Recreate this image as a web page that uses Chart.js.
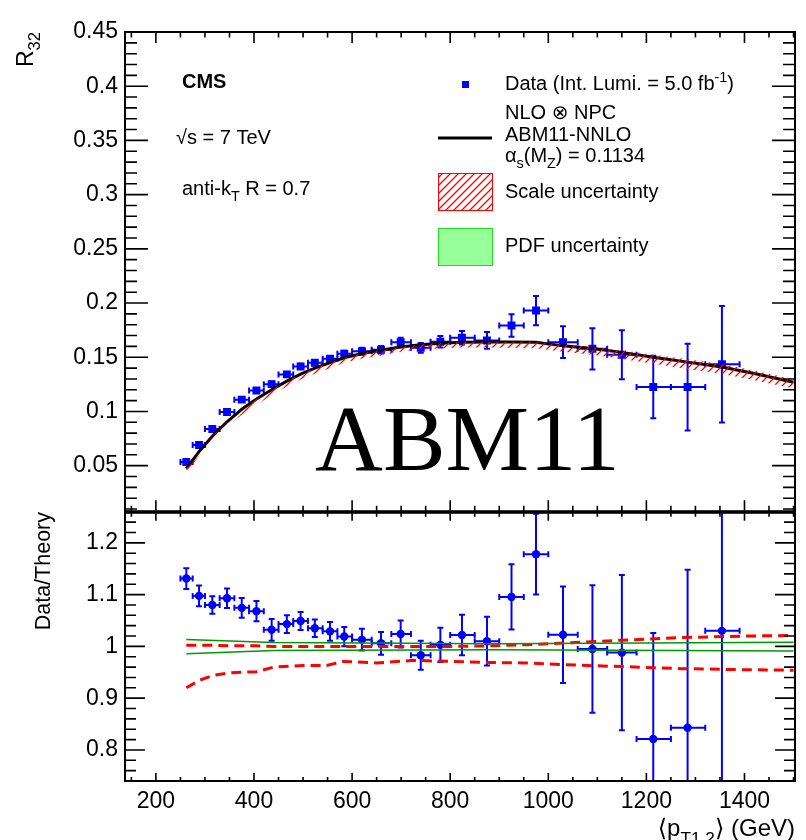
<!DOCTYPE html>
<html><head><meta charset="utf-8">
<script src="https://cdn.jsdelivr.net/npm/chart.js@4.4.1/dist/chart.umd.min.js"></script>
<style>
html,body{margin:0;padding:0;background:#fff;}
#wrap{position:relative;width:806px;height:840px;overflow:hidden;background:#fff;}
#c1{position:absolute;left:0;top:0;width:806px;height:532px;}
#c2{position:absolute;left:0;top:492px;width:806px;height:348px;}
</style></head><body>
<div id="wrap"><canvas id="c1" width="806" height="532"></canvas><canvas id="c2" width="806" height="348"></canvas></div>
<script>
// ---------------- data ----------------
const binCenter = [262, 288, 315, 345, 375, 405, 436, 467, 495, 524, 555, 584, 620, 659, 699, 740, 780, 824, 875, 925, 975, 1030, 1090, 1150, 1214, 1284, 1354];
const binLow    = [250, 275, 300, 330, 360, 390, 420, 450, 480, 510, 540, 570, 600, 640, 680, 720, 760, 800, 850, 900, 950, 1000, 1060, 1120, 1180, 1250, 1320];
const binHigh   = [275, 300, 330, 360, 390, 420, 450, 480, 510, 540, 570, 600, 640, 680, 720, 760, 800, 850, 900, 950, 1000, 1060, 1120, 1180, 1250, 1320, 1390];
const r32       = [0.0534, 0.0690, 0.0838, 0.0995, 0.1109, 0.1194, 0.1252, 0.1342, 0.1415, 0.1449, 0.1486, 0.1532, 0.1556, 0.1569, 0.1639, 0.1587, 0.1643, 0.1680, 0.1655, 0.1793, 0.1931, 0.1639, 0.1578, 0.1523, 0.1225, 0.1225, 0.1436];
const r32Err    = [0.0009, 0.0013, 0.0013, 0.0017, 0.0020, 0.0022, 0.0025, 0.0022, 0.0024, 0.0024, 0.0026, 0.0028, 0.0032, 0.0034, 0.0042, 0.0045, 0.0054, 0.0063, 0.0077, 0.0104, 0.0135, 0.0147, 0.0190, 0.0227, 0.0288, 0.0400, 0.0537];
const ratio     = [1.131, 1.0975, 1.080, 1.093, 1.0744, 1.068, 1.032, 1.043, 1.049, 1.035, 1.029, 1.019, 1.013, 1.006, 1.024, 0.983, 1.003, 1.022, 1.010, 1.0955, 1.178, 1.0225, 0.995, 0.988, 0.821, 0.843, 1.030];
const ratioErr  = [0.020, 0.020, 0.017, 0.019, 0.019, 0.0195, 0.021, 0.017, 0.0176, 0.017, 0.018, 0.0186, 0.021, 0.022, 0.026, 0.028, 0.033, 0.039, 0.047, 0.063, 0.078, 0.093, 0.123, 0.150, 0.205, 0.305, 0.385];

const theoryX   = [262, 288, 315, 345, 375, 405, 436, 467, 495, 524, 555, 584, 620, 659, 699, 740, 780, 824, 875, 925, 975, 1030, 1090, 1150, 1214, 1284, 1354, 1425, 1500];
const theory    = [0.0472, 0.0630, 0.0772, 0.0905, 0.1020, 0.1115, 0.1200, 0.1280, 0.1345, 0.1400, 0.1450, 0.1495, 0.1535, 0.1565, 0.1595, 0.1615, 0.1630, 0.1638, 0.1640, 0.1640, 0.1638, 0.1605, 0.1580, 0.1545, 0.1500, 0.1455, 0.1410, 0.1345, 0.1270];
const scaleBandLo = [0.0434, 0.0588, 0.0729, 0.0858, 0.0969, 0.1060, 0.1151, 0.1231, 0.1295, 0.1348, 0.1399, 0.1452, 0.1487, 0.1515, 0.1550, 0.1571, 0.1584, 0.1589, 0.1589, 0.1588, 0.1584, 0.1550, 0.1522, 0.1485, 0.1439, 0.1392, 0.1348, 0.1284, 0.1212];
const scaleBandHi = [0.0473, 0.0631, 0.0773, 0.0906, 0.1021, 0.1116, 0.1201, 0.1281, 0.1346, 0.1401, 0.1451, 0.1496, 0.1537, 0.1567, 0.1597, 0.1617, 0.1632, 0.1640, 0.1642, 0.1643, 0.1645, 0.1615, 0.1596, 0.1565, 0.1524, 0.1481, 0.1438, 0.1373, 0.1297];

const scaleRatioX  = [262, 290, 317, 350, 405, 440, 500, 548, 582, 650, 725, 800, 875, 950, 1065, 1150, 1270, 1400, 1500];
const scaleRatioLo = [0.920, 0.935, 0.944, 0.949, 0.951, 0.960, 0.963, 0.963, 0.971, 0.968, 0.973, 0.971, 0.969, 0.968, 0.9635, 0.961, 0.957, 0.955, 0.954];
const scaleRatioHi = [1.002, 1.002, 1.002, 1.001, 1.001, 1.000, 1.000, 1.000, 1.000, 1.000, 1.000, 1.000, 1.001, 1.003, 1.008, 1.012, 1.017, 1.020, 1.021];

const pdfRatioX  = [262, 440, 890, 1500];
const pdfRatioHi = [1.0135, 1.0077, 1.005, 1.008];
const pdfRatioLo = [0.986, 0.992, 0.9936, 0.991];

const xTickValues = [200, 400, 600, 800, 1000, 1200, 1400];
const xTickLabels = ['200', '400', '600', '800', '1000', '1200', '1400'];
const topYTickValues = [0.05, 0.1, 0.15, 0.2, 0.25, 0.3, 0.35, 0.4, 0.45];
const topYTickLabels = ['0.05', '0.1', '0.15', '0.2', '0.25', '0.3', '0.35', '0.4', '0.45'];
const botYTickValues = [0.8, 0.9, 1.0, 1.1, 1.2];
const botYTickLabels = ['0.8', '0.9', '1', '1.1', '1.2'];

// ---------------- helpers ----------------
const FONT = '"Liberation Sans", "DejaVu Sans", Arial, sans-serif';
Chart.defaults.font.family = FONT;
Chart.defaults.color = '#000';
const BLUE = '#0000ff';
const zip = (xs, ys) => xs.map((x, i) => ({x: x, y: ys[i]}));

function rich(ctx, x, y, parts, size, bold) {
  let cx = x;
  for (const [t, m] of parts) {
    const s = m ? size * 0.72 : size;
    ctx.font = (bold ? 'bold ' : '') + s + 'px ' + FONT;
    const dy = m === 1 ? size * 0.32 : (m === 2 ? -size * 0.40 : 0);
    ctx.fillText(t, cx, y + dy);
    cx += ctx.measureText(t).width;
  }
  return cx - x;
}
function richWidth(ctx, parts, size) {
  let w = 0;
  for (const [t, m] of parts) {
    ctx.font = (m ? size * 0.72 : size) + 'px ' + FONT;
    w += ctx.measureText(t).width;
  }
  return w;
}

function makeHatch(ctx) {
  const p = document.createElement('canvas'); p.width = 8; p.height = 8;
  const g = p.getContext('2d');
  g.strokeStyle = '#ff0000'; g.lineWidth = 1.3;
  g.beginPath();
  g.moveTo(0, 8); g.lineTo(8, 0);
  g.moveTo(-2, 2); g.lineTo(2, -2);
  g.moveTo(6, 10); g.lineTo(10, 6);
  g.stroke();
  return ctx.createPattern(p, 'repeat');
}

function rangeTicks(lo, hi, step) {
  const out = [];
  const n0 = Math.ceil(lo / step - 1e-9), n1 = Math.floor(hi / step + 1e-9);
  for (let n = n0; n <= n1; n++) out.push(+(n * step).toFixed(6));
  return out;
}

// frame + ROOT-style ticks on all four sides
function framePlugin(cfg) {
  return {
    id: 'frame',
    afterDraw(chart) {
      const ctx = chart.ctx, a = chart.chartArea;
      const xs = chart.scales.x, ys = chart.scales.y;
      ctx.save();
      ctx.strokeStyle = '#000';
      ctx.lineWidth = 1.6;
      for (const v of rangeTicks(xs.min, xs.max, 50)) {
        const px = xs.getPixelForValue(v);
        if (px < a.left + 1 || px > a.right - 1) continue;
        const major = Math.abs(v % 200) < 1e-6;
        const lb = major ? cfg.xMajB : cfg.xMinB, lt = major ? cfg.xMajT : cfg.xMinT;
        ctx.beginPath();
        ctx.moveTo(px, a.bottom); ctx.lineTo(px, a.bottom - lb);
        ctx.moveTo(px, a.top); ctx.lineTo(px, a.top + lt);
        ctx.stroke();
      }
      for (const v of rangeTicks(ys.min, ys.max, cfg.yMinorStep)) {
        const py = ys.getPixelForValue(v);
        if (py < a.top + 1 || py > a.bottom - 1) continue;
        const major = Math.abs(v / cfg.yMajorStep - Math.round(v / cfg.yMajorStep)) < 1e-6;
        const l = major ? cfg.yMaj : cfg.yMin;
        ctx.beginPath();
        ctx.moveTo(a.left, py); ctx.lineTo(a.left + l, py);
        ctx.moveTo(a.right, py); ctx.lineTo(a.right - l, py);
        ctx.stroke();
      }
      ctx.lineWidth = 2;
      ctx.strokeRect(a.left, a.top, a.right - a.left, a.bottom - a.top);
      ctx.restore();
    }
  };
}

// error bars for the data dataset
function errPlugin(dsIndex, yv, ye) {
  return {
    id: 'errbars',
    beforeDatasetDraw(chart, args) {
      if (args.index !== dsIndex) return;
      const ctx = chart.ctx, a = chart.chartArea;
      const xs = chart.scales.x, ys = chart.scales.y;
      ctx.save();
      ctx.beginPath(); ctx.rect(a.left, a.top, a.right - a.left, a.bottom - a.top); ctx.clip();
      ctx.strokeStyle = BLUE; ctx.lineWidth = 2;
      const cap = 3;
      for (let i = 0; i < binCenter.length; i++) {
        const px = xs.getPixelForValue(binCenter[i]);
        const py = ys.getPixelForValue(yv[i]);
        const x0 = xs.getPixelForValue(binLow[i]), x1 = xs.getPixelForValue(binHigh[i]);
        const y0 = ys.getPixelForValue(yv[i] - ye[i]), y1 = ys.getPixelForValue(yv[i] + ye[i]);
        ctx.beginPath();
        ctx.moveTo(x0, py); ctx.lineTo(x1, py);
        ctx.moveTo(x0, py - cap); ctx.lineTo(x0, py + cap);
        ctx.moveTo(x1, py - cap); ctx.lineTo(x1, py + cap);
        ctx.moveTo(px, y0); ctx.lineTo(px, y1);
        ctx.moveTo(px - cap, y0); ctx.lineTo(px + cap, y0);
        ctx.moveTo(px - cap, y1); ctx.lineTo(px + cap, y1);
        ctx.stroke();
      }
      ctx.restore();
    }
  };
}

const topTextPlugin = {
  id: 'toptext',
  afterDraw(chart) {
    const ctx = chart.ctx;
    ctx.save();
    ctx.fillStyle = '#000';
    ctx.textBaseline = 'alphabetic';
    ctx.textAlign = 'left';
    ctx.font = '94px "Liberation Serif", "DejaVu Serif", serif';
    ctx.fillText('ABM11', 315, 470);
    rich(ctx, 182, 88, [['CMS', 0]], 20, true);
    rich(ctx, 176, 144, [['\u221As = 7 TeV', 0]], 20);
    rich(ctx, 182, 195, [['anti-k', 0], ['T', 1], [' R = 0.7', 0]], 20);
    // legend
    ctx.fillStyle = BLUE;
    ctx.fillRect(462, 81, 7, 7);
    ctx.fillStyle = '#000';
    rich(ctx, 505, 90, [['Data (Int. Lumi. = 5.0 fb', 0], ['-1', 2], [')', 0]], 20);
    rich(ctx, 505, 119, [['NLO \u2297 NPC', 0]], 20);
    ctx.strokeStyle = '#000'; ctx.lineWidth = 3;
    ctx.beginPath(); ctx.moveTo(438, 138); ctx.lineTo(492, 138); ctx.stroke();
    rich(ctx, 505, 141, [['ABM11-NNLO', 0]], 20);
    rich(ctx, 505, 162, [['\u03B1', 0], ['s', 1], ['(M', 0], ['Z', 1], [') = 0.1134', 0]], 20);
    ctx.fillStyle = makeHatch(ctx);
    ctx.fillRect(438, 173, 55, 38);
    ctx.strokeStyle = '#ff0000'; ctx.lineWidth = 1;
    ctx.strokeRect(438.5, 173.5, 54, 37);
    ctx.fillStyle = '#000';
    rich(ctx, 505, 198, [['Scale uncertainty', 0]], 20);
    ctx.fillStyle = '#99ff99';
    ctx.fillRect(438, 228, 55, 38);
    ctx.strokeStyle = '#22dd22'; ctx.lineWidth = 1;
    ctx.strokeRect(438.5, 228.5, 54, 37);
    ctx.fillStyle = '#000';
    rich(ctx, 505, 252, [['PDF uncertainty', 0]], 20);
    // y title R_32 (rotated)
    const parts = [['R', 0], ['32', 1]];
    const W = richWidth(ctx, parts, 23);
    ctx.translate(33, 32 + W);
    ctx.rotate(-Math.PI / 2);
    rich(ctx, 0, 0, parts, 23);
    ctx.restore();
  }
};

const botTextPlugin = {
  id: 'bottext',
  afterDraw(chart) {
    const ctx = chart.ctx;
    const off = 492;
    ctx.save();
    ctx.fillStyle = '#000';
    ctx.textBaseline = 'alphabetic';
    const parts = [['\u27E8p', 0], ['T1,2', 1], ['\u27E9 (GeV)', 0]];
    const W = richWidth(ctx, parts, 24);
    rich(ctx, 795 - W, 836 - off, parts, 24);
    ctx.font = '21.5px ' + FONT;
    const t = 'Data/Theory';
    const w = ctx.measureText(t).width;
    ctx.translate(50, 512 - off + w);
    ctx.rotate(-Math.PI / 2);
    ctx.fillText(t, 0, 0);
    ctx.restore();
  }
};

// ---------------- top panel ----------------
const ctx1 = document.getElementById('c1').getContext('2d');
const hatch = makeHatch(ctx1);
new Chart(ctx1, {
  type: 'scatter',
  data: { datasets: [
    { label: 'scale lo', data: zip(theoryX, scaleBandLo), showLine: true, borderWidth: 0, borderColor: 'rgba(0,0,0,0)', pointRadius: 0, fill: false },
    { label: 'scale hi', data: zip(theoryX, scaleBandHi), showLine: true, borderWidth: 0, borderColor: 'rgba(0,0,0,0)', pointRadius: 0, fill: '-1', backgroundColor: hatch },
    { label: 'theory', data: zip(theoryX, theory), showLine: true, borderColor: '#000', borderWidth: 3, pointRadius: 0, fill: false },
    { label: 'data', data: zip(binCenter, r32), showLine: false, pointStyle: 'rect', pointRadius: 5.6, backgroundColor: BLUE, borderColor: BLUE, borderWidth: 0 }
  ]},
  options: {
    responsive: false, animation: false,
    layout: { padding: { top: 32, right: 11, bottom: 20, left: 0 } },
    plugins: { legend: { display: false }, tooltip: { enabled: false } },
    scales: {
      x: { type: 'linear', min: 137, max: 1503, display: false },
      y: {
        type: 'linear', min: 0.008, max: 0.45,
        afterFit(s) { s.width = 125; },
        afterBuildTicks(s) { s.ticks = topYTickValues.map(v => ({ value: v })); },
        grid: { display: false, drawTicks: false }, border: { display: false },
        ticks: { padding: 7, color: '#000', font: { size: 23 }, callback: (v, i) => topYTickLabels[i] }
      }
    }
  },
  plugins: [errPlugin(3, r32, r32Err),
    framePlugin({ xMajB: 11, xMinB: 5.5, xMajT: 11, xMinT: 5.5, yMaj: 23, yMin: 12, yMajorStep: 0.05, yMinorStep: 0.01 }),
    topTextPlugin]
});

// ---------------- bottom panel ----------------
const ctx2 = document.getElementById('c2').getContext('2d');
const dashRed = { showLine: true, borderColor: '#ff0000', borderWidth: 3, borderDash: [10, 6], pointRadius: 0, fill: false };
const greenLine = { showLine: true, borderColor: '#009900', borderWidth: 1.5, pointRadius: 0, fill: false };
new Chart(ctx2, {
  type: 'scatter',
  data: { datasets: [
    Object.assign({ label: 'pdf lo', data: zip(pdfRatioX, pdfRatioLo) }, greenLine),
    Object.assign({ label: 'pdf hi', data: zip(pdfRatioX, pdfRatioHi) }, greenLine),
    Object.assign({ label: 'scale lo', data: zip(scaleRatioX, scaleRatioLo) }, dashRed),
    Object.assign({ label: 'scale hi', data: zip(scaleRatioX, scaleRatioHi) }, dashRed),
    { label: 'data/theory', data: zip(binCenter, ratio), showLine: false, pointStyle: 'circle', pointRadius: 4.2, backgroundColor: BLUE, borderColor: BLUE, borderWidth: 0 }
  ]},
  options: {
    responsive: false, animation: false,
    layout: { padding: { top: 20, right: 11, bottom: 0, left: 0 } },
    plugins: { legend: { display: false }, tooltip: { enabled: false } },
    scales: {
      x: {
        type: 'linear', min: 137, max: 1503,
        afterFit(s) { s.height = 59; },
        afterBuildTicks(s) { s.ticks = xTickValues.map(v => ({ value: v })); },
        grid: { display: false, drawTicks: false }, border: { display: false },
        ticks: { padding: 7, color: '#000', font: { size: 23 }, maxRotation: 0, autoSkip: false, callback: (v, i) => xTickLabels[i] }
      },
      y: {
        type: 'linear', min: 0.74, max: 1.258,
        afterFit(s) { s.width = 125; },
        afterBuildTicks(s) { s.ticks = botYTickValues.map(v => ({ value: v })); },
        grid: { display: false, drawTicks: false }, border: { display: false },
        ticks: { padding: 7, color: '#000', font: { size: 23 }, callback: (v, i) => botYTickLabels[i] }
      }
    }
  },
  plugins: [errPlugin(4, ratio, ratioErr),
    framePlugin({ xMajB: 8, xMinB: 4, xMajT: 8, xMinT: 4, yMaj: 20, yMin: 11, yMajorStep: 0.1, yMinorStep: 0.02 }),
    botTextPlugin]
});
</script>
</body></html>
